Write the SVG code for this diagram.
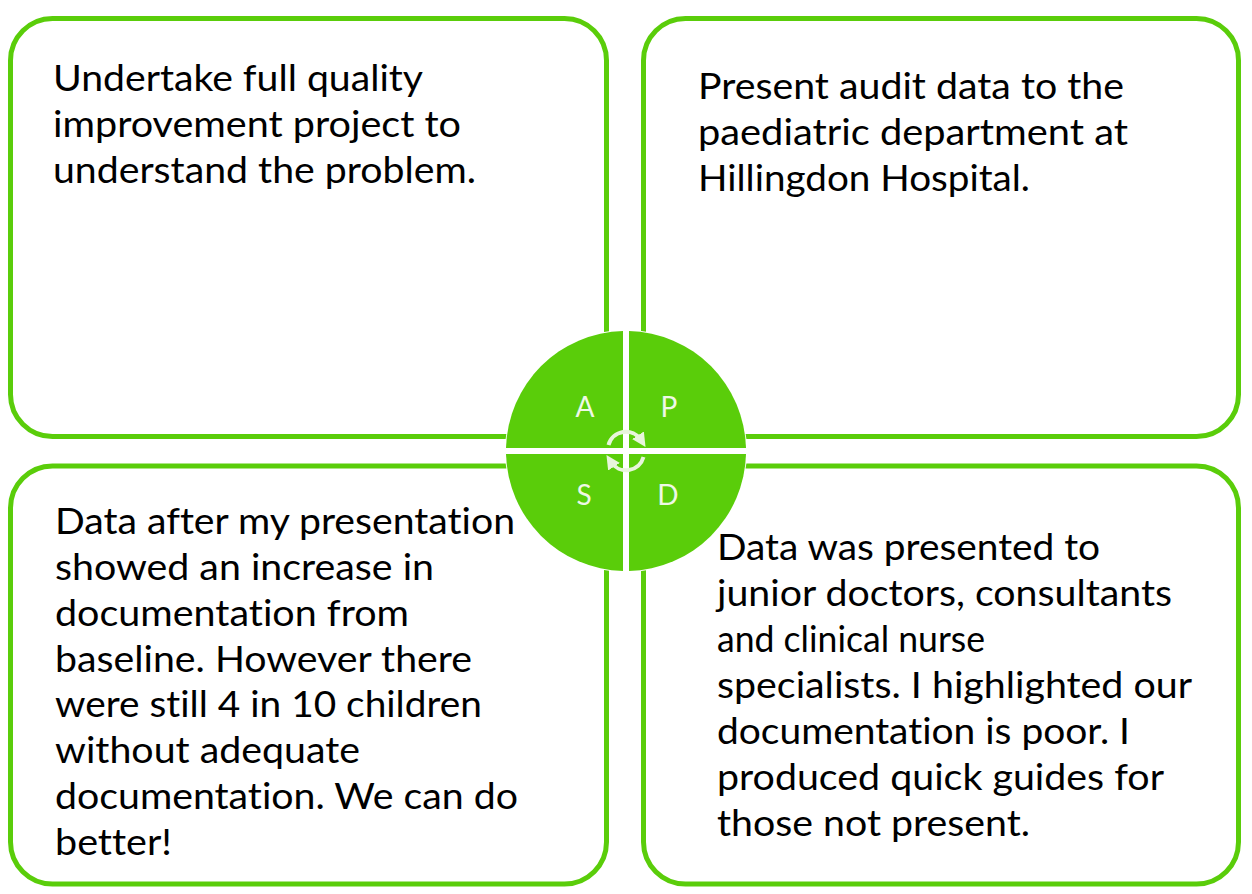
<svg xmlns="http://www.w3.org/2000/svg" width="1252" height="894" viewBox="0 0 1252 894">
  <style>
    .box { fill: #ffffff; stroke: #5acd0a; stroke-width: 5; }
    .txt { font-family: Lato, "Liberation Sans", sans-serif; font-size: 36px; fill: #000000; font-variant-ligatures: none; }
    .quad { fill: #5acd0a; }
    .lbl { font-family: Lato, "Liberation Sans", sans-serif; font-size: 28px; fill: #eef8e6; text-anchor: middle; }
    .cyc { fill: none; stroke: #e8f5dc; stroke-width: 4; }
  </style>
  <defs>
    <marker id="ah" viewBox="0 0 10 10" refX="4" refY="5" markerWidth="3.5" markerHeight="3.5" orient="auto">
      <path d="M0,0 L10,5 L0,10 z" fill="#e8f5dc"/>
    </marker>
  </defs>
  <rect width="1252" height="894" fill="#ffffff"/>

  <g id="node-act">
    <rect class="box" x="10.5" y="18.5" width="596" height="418" rx="42"/>
    <text class="txt" x="53" y="91" textLength="370" lengthAdjust="spacingAndGlyphs">Undertake full quality</text>
    <text class="txt" x="53" y="137" textLength="408" lengthAdjust="spacingAndGlyphs">improvement project to</text>
    <text class="txt" x="53" y="183" textLength="423" lengthAdjust="spacingAndGlyphs">understand the problem.</text>
  </g>

  <g id="node-plan">
    <rect class="box" x="643.5" y="18.5" width="595" height="418" rx="42"/>
    <text class="txt" x="698" y="99" textLength="426" lengthAdjust="spacingAndGlyphs">Present audit data to the</text>
    <text class="txt" x="698" y="145" textLength="430" lengthAdjust="spacingAndGlyphs">paediatric department at</text>
    <text class="txt" x="698" y="191" textLength="332" lengthAdjust="spacingAndGlyphs">Hillingdon Hospital.</text>
  </g>

  <g id="node-study">
    <rect class="box" x="10.5" y="466" width="596" height="418" rx="42"/>
    <text class="txt" x="55" y="534" textLength="460" lengthAdjust="spacingAndGlyphs">Data after my presentation</text>
    <text class="txt" x="55" y="580" textLength="379" lengthAdjust="spacingAndGlyphs">showed an increase in</text>
    <text class="txt" x="55" y="626" textLength="354" lengthAdjust="spacingAndGlyphs">documentation from</text>
    <text class="txt" x="55" y="672" textLength="417" lengthAdjust="spacingAndGlyphs">baseline. However there</text>
    <text class="txt" x="55" y="717" textLength="427" lengthAdjust="spacingAndGlyphs">were still 4 in 10 children</text>
    <text class="txt" x="55" y="763" textLength="305" lengthAdjust="spacingAndGlyphs">without adequate</text>
    <text class="txt" x="55" y="809" textLength="463" lengthAdjust="spacingAndGlyphs">documentation. We can do</text>
    <text class="txt" x="55" y="855" textLength="117" lengthAdjust="spacingAndGlyphs">better!</text>
  </g>

  <g id="node-do">
    <rect class="box" x="643.5" y="466" width="595" height="418" rx="42"/>
    <text class="txt" x="717" y="560" textLength="383" lengthAdjust="spacingAndGlyphs">Data was presented to</text>
    <text class="txt" x="717" y="606" textLength="455" lengthAdjust="spacingAndGlyphs">junior doctors, consultants</text>
    <text class="txt" x="717" y="652" textLength="268" lengthAdjust="spacingAndGlyphs">and clinical nurse</text>
    <text class="txt" x="717" y="698" textLength="475" lengthAdjust="spacingAndGlyphs">specialists. I highlighted our</text>
    <text class="txt" x="717" y="744" textLength="413" lengthAdjust="spacingAndGlyphs">documentation is poor. I</text>
    <text class="txt" x="717" y="790" textLength="447" lengthAdjust="spacingAndGlyphs">produced quick guides for</text>
    <text class="txt" x="717" y="836" textLength="313" lengthAdjust="spacingAndGlyphs">those not present.</text>
  </g>

  <g id="node-cycle">
    <circle cx="626" cy="451" r="121" fill="#ffffff"/>
    <path class="quad" d="M623,448 L623,331 A120,120 0 0 0 506,448 Z"/>
    <path class="quad" d="M629,448 L629,331 A120,120 0 0 1 746,448 Z"/>
    <path class="quad" d="M623,454 L623,571 A120,120 0 0 1 506,454 Z"/>
    <path class="quad" d="M629,454 L629,571 A120,120 0 0 0 746,454 Z"/>
    <text class="lbl" x="585" y="417">A</text>
    <text class="lbl" x="669" y="417">P</text>
    <text class="lbl" x="584" y="505">S</text>
    <text class="lbl" x="668" y="505">D</text>
  </g>

  <g id="connectors">
    <path class="cyc" d="M608.5,445 A18,18 0 0 1 641,440" marker-end="url(#ah)"/>
    <path class="cyc" d="M643.5,457 A18,18 0 0 1 611,462" marker-end="url(#ah)"/>
  </g>
</svg>
